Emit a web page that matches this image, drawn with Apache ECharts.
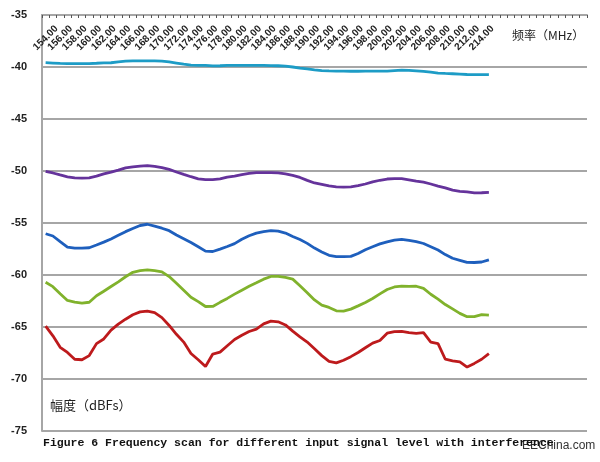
<!DOCTYPE html>
<html>
<head>
<meta charset="utf-8">
<script src="https://cdn.jsdelivr.net/npm/echarts@6/dist/echarts.min.js"></script>
<style>
html,body{margin:0;padding:0;background:#fff;}
#chart{width:600px;height:462px;}
</style>
</head>
<body>
<div id="chart"></div>
<script>
// Frequency categories (MHz), 1 MHz apart; the axis runs on past the data; labels every 2 MHz up to 214
const freqStart = 154;
const categoryCount = 75;
const lastLabel = 214;
const categories = [];
for (let i = 0; i < categoryCount; i++) categories.push((freqStart + i).toFixed(2));

const yTicks = { min: -75, max: -35, interval: 5 };

const seriesCyan = [-39.58,-39.62,-39.66,-39.67,-39.67,-39.67,-39.67,-39.64,-39.6,-39.59,-39.51,-39.44,-39.42,-39.42,-39.42,-39.42,-39.43,-39.51,-39.62,-39.73,-39.82,-39.84,-39.85,-39.89,-39.88,-39.85,-39.85,-39.84,-39.84,-39.84,-39.85,-39.86,-39.88,-39.91,-40.0,-40.1,-40.18,-40.27,-40.34,-40.38,-40.4,-40.4,-40.41,-40.41,-40.4,-40.4,-40.4,-40.4,-40.35,-40.3,-40.32,-40.37,-40.42,-40.5,-40.58,-40.62,-40.65,-40.68,-40.72,-40.73,-40.73,-40.74];
const seriesPurple = [-50.03,-50.19,-50.38,-50.56,-50.67,-50.68,-50.66,-50.5,-50.28,-50.11,-49.91,-49.7,-49.6,-49.54,-49.48,-49.56,-49.68,-49.85,-50.1,-50.33,-50.55,-50.75,-50.83,-50.83,-50.76,-50.58,-50.49,-50.34,-50.23,-50.16,-50.15,-50.16,-50.19,-50.27,-50.42,-50.62,-50.9,-51.15,-51.29,-51.44,-51.52,-51.55,-51.52,-51.41,-51.25,-51.04,-50.89,-50.77,-50.73,-50.74,-50.85,-50.97,-51.08,-51.25,-51.45,-51.62,-51.84,-51.95,-52.0,-52.1,-52.09,-52.05];
const seriesBlue = [-56.03,-56.25,-56.79,-57.31,-57.42,-57.42,-57.38,-57.12,-56.84,-56.53,-56.18,-55.83,-55.53,-55.24,-55.12,-55.3,-55.5,-55.74,-56.15,-56.51,-56.87,-57.28,-57.7,-57.74,-57.51,-57.26,-56.98,-56.56,-56.23,-55.97,-55.82,-55.74,-55.79,-55.97,-56.29,-56.59,-56.96,-57.41,-57.78,-58.11,-58.23,-58.23,-58.21,-57.93,-57.57,-57.28,-57.01,-56.81,-56.64,-56.57,-56.67,-56.8,-56.97,-57.28,-57.6,-58.04,-58.39,-58.59,-58.79,-58.8,-58.75,-58.54];
const seriesGreen = [-60.7,-61.12,-61.8,-62.45,-62.61,-62.7,-62.62,-62.0,-61.56,-61.11,-60.66,-60.17,-59.74,-59.58,-59.5,-59.59,-59.7,-60.15,-60.8,-61.47,-62.14,-62.56,-63.03,-63.02,-62.63,-62.25,-61.84,-61.46,-61.09,-60.75,-60.4,-60.14,-60.13,-60.23,-60.4,-61.03,-61.7,-62.4,-62.9,-63.12,-63.44,-63.47,-63.28,-62.97,-62.64,-62.26,-61.82,-61.39,-61.15,-61.06,-61.1,-61.08,-61.28,-61.85,-62.32,-62.84,-63.26,-63.69,-64.01,-64.0,-63.81,-63.85];
const seriesRed = [-64.92,-65.85,-66.95,-67.45,-68.1,-68.15,-67.75,-66.6,-66.15,-65.3,-64.72,-64.25,-63.82,-63.55,-63.47,-63.62,-64.1,-64.85,-65.7,-66.45,-67.55,-68.15,-68.8,-67.6,-67.42,-66.8,-66.2,-65.8,-65.43,-65.2,-64.7,-64.43,-64.5,-64.8,-65.4,-65.95,-66.45,-67.1,-67.75,-68.3,-68.45,-68.2,-67.85,-67.45,-67.0,-66.55,-66.3,-65.6,-65.45,-65.42,-65.55,-65.62,-65.55,-66.45,-66.6,-68.1,-68.25,-68.35,-68.85,-68.5,-68.1,-67.56];

const seriesList = [
  { name: 'L1', data: seriesCyan, color: '#1d9cc6' },
  { name: 'L2', data: seriesPurple, color: '#65339b' },
  { name: 'L3', data: seriesBlue, color: '#1e5fbd' },
  { name: 'L4', data: seriesGreen, color: '#80b22c' },
  { name: 'L5', data: seriesRed, color: '#bd1a1c' }
];

const chart = echarts.init(document.getElementById('chart'), null, { renderer: 'canvas' });
chart.setOption({
  animation: false,
  backgroundColor: '#ffffff',
  grid: { left: 42, right: 13, top: 15, bottom: 31, containLabel: false },
  xAxis: {
    type: 'category',
    position: 'top',
    data: categories,
    boundaryGap: true,
    axisLine: { show: true, lineStyle: { color: '#a6a6a6', width: 2 } },
    axisTick: { show: true, inside: true, interval: 0, length: 3, lineStyle: { color: '#555', width: 1 } },
    axisLabel: {
      show: true, inside: true, interval: 1, rotate: -45, margin: 23,
      align: 'center', verticalAlign: 'middle',
      fontFamily: 'Liberation Sans', fontSize: 10, fontWeight: 'bold', color: '#222',
      formatter: function (v) { return parseFloat(v) <= lastLabel + 0.01 ? v : ''; }
    },
    splitLine: { show: false }
  },
  yAxis: {
    type: 'value',
    min: yTicks.min, max: yTicks.max, interval: yTicks.interval,
    axisLine: { show: true, lineStyle: { color: '#a6a6a6', width: 2 } },
    axisTick: { show: false },
    axisLabel: { margin: 15, fontFamily: 'Liberation Sans', fontSize: 11, fontWeight: 'bold', color: '#222' },
    splitLine: { show: true, lineStyle: { color: '#a6a6a6', width: 2 } }
  },
  series: seriesList.map(s => ({
    name: s.name, type: 'line', data: s.data, showSymbol: false, symbol: 'none',
    smooth: false, lineStyle: { color: s.color, width: 2.8 }, itemStyle: { color: s.color }
  })),
  graphic: [
    { type: 'text', left: 512, top: 29, style: { text: '频率（MHz）', font: '12px "Noto Sans CJK SC"', fill: '#222' } },
    { type: 'text', left: 50, top: 399, style: { text: '幅度（dBFs）', font: '13px "Noto Sans CJK SC"', fill: '#222' } },
    { type: 'text', left: 522, top: 440, style: { text: 'EEChina.com', font: '12px "Liberation Sans"', fill: '#333' } },
    { type: 'text', left: 43, top: 437, style: { text: 'Figure 6 Frequency scan for different input signal level with interference', font: 'bold 11.5px "Liberation Mono"', fill: '#111' } }
  ]
});
</script>
</body>
</html>
